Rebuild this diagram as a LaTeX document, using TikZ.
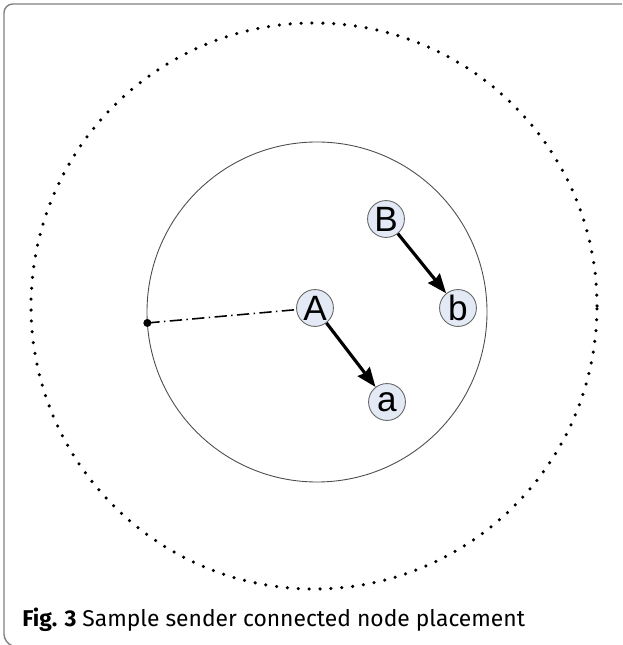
\documentclass[tikz,border=0pt]{standalone}
\usepackage{fontspec}
\setmainfont{Liberation Sans}
\newfontfamily\capfont{Fira Sans}
\usetikzlibrary{arrows.meta,calc}
\definecolor{nodefill}{HTML}{E3EAF6}
\tikzset{
  station/.style={circle,draw=gray!80!black,line width=0.5pt,fill=nodefill,
    minimum size=21pt,inner sep=0pt,font=\fontsize{20}{20}\selectfont},
  link/.style={line width=1.8pt,-{Stealth[length=11pt,width=8.5pt,inset=1pt]}}
}
\begin{document}
\begin{tikzpicture}[x=0.02cm,y=0.02cm]
\useasboundingbox (0,0) rectangle (622,645);
% frame
\draw[gray,line width=0.8pt,rounded corners=5pt] (622,641) -- (4,641) -- (4,2) -- (10,0);
% ranges
\coordinate (outer) at (314,339);
\coordinate (inner) at (317,333);
\draw[line width=2pt,line cap=round,dash pattern=on 0pt off 6.2pt] (outer) circle (283);
\draw[gray!60!black,line width=0.5pt] (inner) circle (170);
% nodes
\node[station] (A) at (315,337) {A};
\node[station] (B) at (386,426) {B};
\node[station] (b) at (458,337) {b};
\node[station] (a) at (387,243) {a};
\coordinate (rim) at ($(inner)+(183.7:170)$);
\fill (rim) circle (4);
\draw[line width=0.9pt,dash pattern=on 7pt off 2.5pt on 0.8pt off 2.5pt] (rim) -- (A);
\draw[link] (A) -- (a);
\draw[link] (B) -- (b);
% caption
\node[anchor=base west,inner sep=0pt,font=\capfont\fontsize{13}{15}\selectfont] (cap) at (22,18)
  {\textbf{Fig. 3} Sample sender connected node placement};
\end{tikzpicture}
\end{document}
